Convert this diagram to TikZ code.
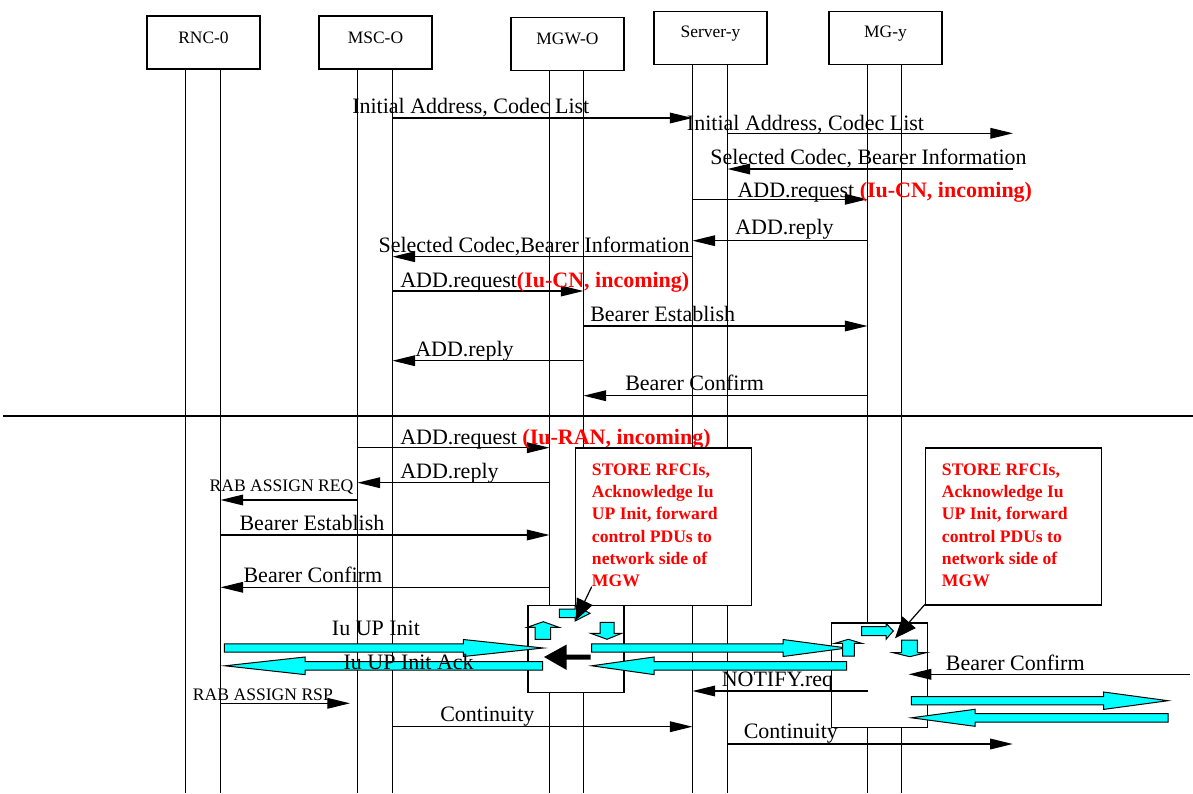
\documentclass[tikz,border=0pt]{standalone}
\usepackage{fontspec}
\setmainfont{Liberation Serif}
\usetikzlibrary{arrows.meta}
\definecolor{cy}{RGB}{0,255,255}
\definecolor{rd}{RGB}{255,0,0}
\tikzset{
  ent/.style={draw, line width=0.9pt, fill=white, minimum width=84.75pt, minimum height=39.75pt, inner sep=0pt},
  entlbl/.style={font=\fontsize{13.1}{15}\selectfont, inner sep=0pt, anchor=base},
  life/.style={line width=0.95pt},
  msg/.style={line width=0.95pt, -{Triangle[length=17pt,width=8pt]}},
  lbl/.style={font=\fontsize{16.5}{19}\selectfont, inner sep=0pt, anchor=base west},
  slbl/.style={font=\fontsize{13.2}{15}\selectfont, inner sep=0pt, anchor=base west},
  notebox/.style={draw, line width=0.9pt, fill=white},
  notetxt/.style={text=rd, font=\fontsize{13.2}{16.65}\selectfont\bfseries, align=left, inner sep=0pt, anchor=north west},
  inbox/.style={draw, line width=0.9pt, fill=white},
  fat/.style={draw=black, line width=0.75pt, fill=cy},
  ptr/.style={line width=0.9pt, -{Triangle[length=16pt,width=13pt]}},
}
\begin{document}
\begin{tikzpicture}[x=0.75pt,y=-0.75pt]
\useasboundingbox (0,0) rectangle (1193,793);

% entity boxes
\node[ent] (rnc) at (203.5,42.5) {};
\node[entlbl] (rncT) at (203.5,43.3) {RNC-0};
\node[ent] (mso) at (375.5,42.5) {};
\node[entlbl] (msoT) at (375.5,43.3) {MSC-O};
\node[ent] (mgw) at (567.5,43.7) {};
\node[entlbl] (mgwT) at (567.5,44.7) {MGW-O};
\node[ent] (svy) at (710.5,38.3) {};
\node[entlbl] (svyT) at (710.5,37.3) {Server-y};
\node[ent] (mgy) at (885.5,38.3) {};
\node[entlbl] (mgyT) at (885.5,37.3) {MG-y};

% lifeline tops and bottoms
\coordinate (rncL) at (185.5,69);   \coordinate (rncLb) at (185.5,793);
\coordinate (rncR) at (220.5,69);   \coordinate (rncRb) at (220.5,793);
\coordinate (msoL) at (357.5,69);   \coordinate (msoLb) at (357.5,793);
\coordinate (msoR) at (392.5,69);   \coordinate (msoRb) at (392.5,793);
\coordinate (mgwL) at (549.5,70.3); \coordinate (mgwLb) at (549.5,793);
\coordinate (mgwR) at (583.5,70.3); \coordinate (mgwRb) at (583.5,793);
\coordinate (svyL) at (692.5,64.3); \coordinate (svyLb) at (692.5,793);
\coordinate (svyR) at (727.5,64.3); \coordinate (svyRb) at (727.5,793);
\coordinate (mgyL) at (867.5,64.3); \coordinate (mgyLb) at (867.5,793);
\coordinate (mgyR) at (901.5,64.3); \coordinate (mgyRb) at (901.5,793);
\foreach \a in {rncL,rncR,msoL,msoR,mgwL,mgwR,svyL,svyR,mgyL,mgyR}
  \draw[life] (\a) -- (\a b);

% separator
\coordinate (sepA) at (3,416);
\coordinate (sepB) at (1193,416);
\draw[line width=1.8pt] (sepA) -- (sepB);

% free ends
\coordinate (extA) at (1013,133.3);
\coordinate (extB) at (1013,169);
\coordinate (rspEnd) at (350,703.3);
\coordinate (contEnd) at (1012.8,744);
\coordinate (bcStart) at (1189.5,674.3);
\coordinate (bcEnd) at (908.6,674.3);

% ---- upper messages
\draw[msg] (msoR |- 0,118) -- (svyL |- 0,118);
\node[lbl] (m1) at (352,113.3) {Initial Address, Codec List};
\draw[msg] (svyR |- 0,133.3) -- (extA);
\node[lbl] (m2) at (686.7,130) {Initial Address, Codec List};
\draw[msg] (extB) -- (svyR |- 0,169);
\node[lbl] (m3) at (710,164) {Selected Codec, Bearer Information};
\draw[msg] (svyL |- 0,199.3) -- (mgyL |- 0,199.3);
\node[lbl] (m4) at (737.3,197.5) {ADD.request \textcolor{rd}{\textbf{(Iu-CN, incoming)}}};
\draw[msg] (mgyL |- 0,240.7) -- (svyL |- 0,240.7);
\node[lbl] (m5) at (735,234) {ADD.reply};
\draw[msg] (svyL |- 0,256.7) -- (msoR |- 0,256.7);
\node[lbl] (m6) at (378.3,252.2) {Selected Codec,Bearer Information};
\draw[msg] (msoR |- 0,291) -- (mgwR |- 0,291);
\node[lbl] (m7) at (400,287) {ADD.request\textcolor{rd}{\textbf{(Iu-CN, incoming)}}};
\draw[msg] (mgwR |- 0,326) -- (mgyL |- 0,326);
\node[lbl] (m8) at (590,321.7) {Bearer Establish};
\draw[msg] (mgwR |- 0,360.7) -- (msoR |- 0,360.7);
\node[lbl] (m9) at (415,356) {ADD.reply};
\draw[msg] (mgyL |- 0,395.7) -- (mgwR |- 0,395.7);
\node[lbl] (m10) at (625,390.7) {Bearer Confirm};

% ---- lower messages
\draw[msg] (msoL |- 0,447.7) -- (mgwL |- 0,447.7);
\node[lbl] (m11) at (400,444.5) {ADD.request \textcolor{rd}{\textbf{(Iu-RAN, incoming)}}};
\draw[msg] (mgwL |- 0,482.7) -- (msoL |- 0,482.7);
\node[lbl] (m12) at (400,478.5) {ADD.reply};
\draw[msg] (msoL |- 0,500) -- (rncR |- 0,500);
\node[slbl] (m13) at (209.3,491.7) {RAB ASSIGN REQ};
\draw[msg] (rncR |- 0,535) -- (mgwL |- 0,535);
\node[lbl] (m14) at (239.3,530) {Bearer Establish};
\draw[msg] (mgwL |- 0,587.3) -- (rncR |- 0,587.3);
\node[lbl] (m15) at (243.3,582.7) {Bearer Confirm};

% notes
\node[notebox, minimum width=131.8pt, minimum height=118.3pt, inner sep=0pt, anchor=north west] (note1) at (575,447.3) {};
\node[notetxt] (note1t) at (591.7,463.6) {STORE RFCIs,\\Acknowledge Iu\\UP Init, forward\\control PDUs to\\network side of\\MGW};
\node[notebox, minimum width=132pt, minimum height=117.8pt, inner sep=0pt, anchor=north west] (note2) at (925,447.3) {};
\node[notetxt] (note2t) at (941.7,463.6) {STORE RFCIs,\\Acknowledge Iu\\UP Init, forward\\control PDUs to\\network side of\\MGW};

% lower labels and messages
\node[lbl] (iuinit) at (331.7,635) {Iu UP Init};
\draw[msg] (rncR |- 0,703.3) -- (rspEnd);
\node[slbl] (rsp) at (192.7,700) {RAB ASSIGN RSP};
\draw[msg] (msoR |- 0,726.7) -- (svyL |- 0,726.7);
\node[lbl] (cont1) at (440,721.7) {Continuity};
\draw[msg] (svyR |- 0,744) -- (contEnd);
\node[lbl] (cont2) at (743.5,738.3) {Continuity};
\node[lbl] (notify) at (721.5,686.7) {NOTIFY.req};
\node[lbl] (bconf) at (945.7,670) {Bearer Confirm};

% inner boxes (white, hide lifelines)
\node[inbox, minimum width=72pt, minimum height=65pt, inner sep=0pt, anchor=north west] (box1) at (527.3,605) {};
\node[inbox, minimum width=72.4pt, minimum height=78.3pt, inner sep=0pt, anchor=north west] (box2) at (830.5,622.3) {};

\draw[msg] (mgyL |- 0,691) -- (svyL |- 0,691);
\draw[msg] (bcStart) -- (bcEnd);

% fat cyan arrows
\filldraw[fat] (224.3,643.8) -- (463.3,643.8) -- (463.3,639.5) -- (543.3,648) -- (463.3,656.5) -- (463.3,652.2) -- (224.3,652.2) -- cycle;
\filldraw[fat] (542.7,661.6) -- (305,661.6) -- (305,657) -- (225,665.8) -- (305,674.6) -- (305,670) -- (542.7,670) -- cycle;
\filldraw[fat] (591.7,643.8) -- (783,643.8) -- (783,639.5) -- (847,648) -- (783,656.5) -- (783,652.2) -- (591.7,652.2) -- cycle;
\filldraw[fat] (846.7,661.6) -- (654,661.6) -- (654,657) -- (591.7,665.8) -- (654,674.6) -- (654,670) -- (846.7,670) -- cycle;
\filldraw[fat] (911.4,696.5) -- (1103.6,696.5) -- (1103.6,692) -- (1168,700.7) -- (1103.6,709.4) -- (1103.6,704.9) -- (911.4,704.9) -- cycle;
\filldraw[fat] (1168,713.6) -- (975,713.6) -- (975,709.3) -- (911.4,717.8) -- (975,726.3) -- (975,722) -- (1168,722) -- cycle;

% black arrow in box1
\fill[black] (544,657) -- (566.7,644.5) -- (566.7,654.5) -- (590.7,654.5) -- (590.7,659.5) -- (566.7,659.5) -- (566.7,670) -- cycle;

% small cyan arrows box1
\filldraw[fat] (543.3,621.7) -- (559,627.3) -- (550.7,627.3) -- (550.7,639.3) -- (535,639.3) -- (535,627.3) -- (527.3,627.3) -- cycle;
\filldraw[fat] (559.3,609) -- (575,609) -- (575,605.5) -- (590,613.3) -- (575,621) -- (575,617.7) -- (559.3,617.7) -- cycle;
\filldraw[fat] (600,622.3) -- (614,622.3) -- (614,633.3) -- (621.7,633.3) -- (607,639.3) -- (590.7,633.3) -- (600,633.3) -- cycle;
% small cyan arrows box2
\filldraw[fat] (848.3,639.3) -- (861.7,643.3) -- (854.3,643.3) -- (854.3,656) -- (842.7,656) -- (842.7,643.3) -- (835,643.3) -- cycle;
\filldraw[fat] (861.7,626.7) -- (886,626.7) -- (886,623.3) -- (893.3,631) -- (886,639.3) -- (886,635.7) -- (861.7,635.7) -- cycle;
\filldraw[fat] (901.7,640) -- (917.3,640) -- (917.3,652.7) -- (926,652.7) -- (909.7,656.7) -- (893.3,652.7) -- (901.7,652.7) -- cycle;

% pointers from notes
\coordinate (p1s) at (591.7,586.7);
\coordinate (p1e) at (575.5,620.5);
\draw[ptr] (p1s) -- (p1e);
\coordinate (p2s) at (925,604.3);
\coordinate (p2e) at (895,638.3);
\draw[ptr] (p2s) -- (p2e);

\node[lbl] (iuack) at (343.3,669.3) {Iu UP Init Ack};
\end{tikzpicture}
\end{document}
